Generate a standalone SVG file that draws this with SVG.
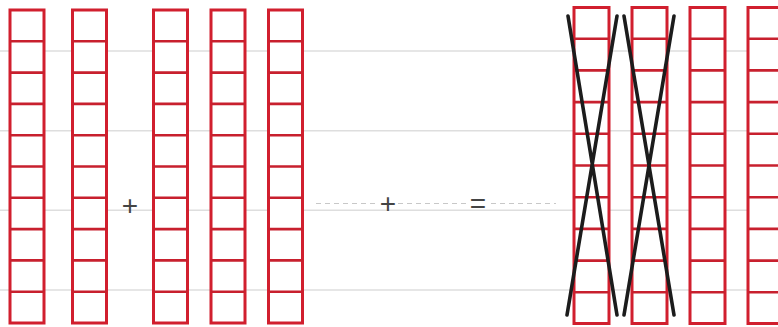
<svg xmlns="http://www.w3.org/2000/svg" xmlns:xlink="http://www.w3.org/1999/xlink" width="778" height="327" viewBox="0 0 778 327">
<style>
.grid{stroke:#dedede;stroke-width:1.6;fill:none}
.dash{stroke:#c8c8c8;stroke-width:1.2;stroke-dasharray:5 4;fill:none}
.frame{fill:#fff;stroke:#d11f2e;stroke-width:3}
.rung{stroke:#c8202e;stroke-width:2.6;fill:none}
.cross{stroke:#1c1c1c;stroke-width:3.6;stroke-linecap:round;fill:none}
.op{font-family:"Liberation Sans",Arial,sans-serif;font-size:28px;fill:#444;text-anchor:middle}
</style>
<defs>
<g id="ladderL">
<rect class="frame" x="0" y="10" width="34" height="313"/>
<path class="rung" d="M0 41.3H34M0 72.6H34M0 103.9H34M0 135.2H34M0 166.5H34M0 197.8H34M0 229.1H34M0 260.4H34M0 291.7H34"/>
</g>
<g id="ladderR">
<rect class="frame" x="0" y="7.5" width="35" height="316"/>
<path class="rung" d="M0 38.7H35M0 70.4H35M0 102.1H35M0 133.8H35M0 165.5H35M0 197.2H35M0 228.9H35M0 260.6H35M0 292.3H35"/>
</g>
</defs>
<rect width="778" height="327" fill="#fff"/>
<g id="gridlines">
<path class="grid" d="M0 51H778M0 130.7H778M0 210.3H778M0 290H778"/>
</g>
<g id="col1"><use xlink:href="#ladderL" x="10"/></g>
<g id="col2"><use xlink:href="#ladderL" x="72.5"/></g>
<g id="col3"><use xlink:href="#ladderL" x="153.5"/></g>
<g id="col4"><use xlink:href="#ladderL" x="211"/></g>
<g id="col5"><use xlink:href="#ladderL" x="268.5"/></g>
<g id="colA"><use xlink:href="#ladderR" x="574"/></g>
<g id="colB"><use xlink:href="#ladderR" x="632"/></g>
<g id="colC"><use xlink:href="#ladderR" x="690"/></g>
<g id="colD"><use xlink:href="#ladderR" x="748"/></g>
<g id="connectors">
<path class="dash" d="M316 203.5H378M398 203.5H466M491 203.5H556"/>
<path class="cross" d="M568 16L617 315M617 16L567 315"/>
<path class="cross" d="M624 16L674 315M674 16L624 315"/>
</g>
<g id="operators">
<text class="op" x="130" y="215">+</text>
<text class="op" x="388" y="213">+</text>
<text class="op" x="478" y="213">=</text>
</g>
</svg>
